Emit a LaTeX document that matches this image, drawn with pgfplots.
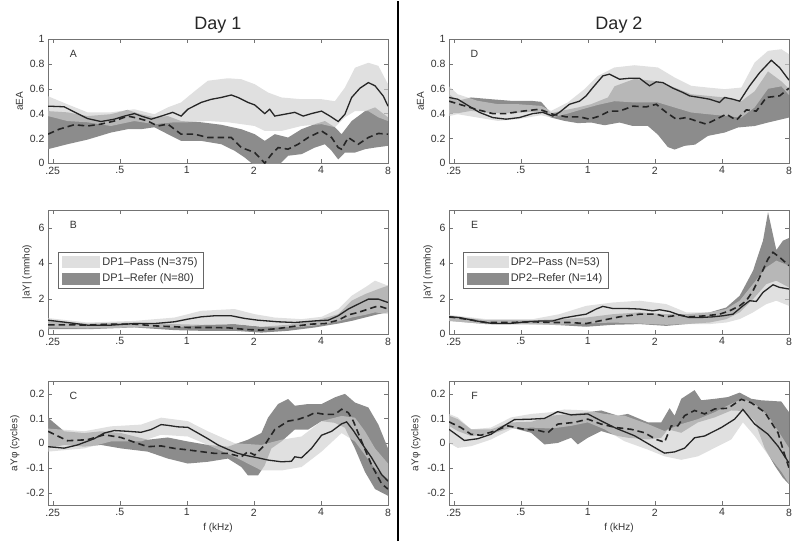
\documentclass[border=0pt]{standalone}
\usepackage{pgfplots}
\pgfplotsset{compat=1.18}
\usepgfplotslibrary{fillbetween}
\usepackage{fontspec}
\setmainfont{Liberation Sans}
\definecolor{passfill}{gray}{0.81}
\definecolor{referfill}{gray}{0.55}
\pgfplotsset{
  panel/.style={
    scale only axis, width=340pt, height=124pt,
    xmin=-2.07, xmax=3,
    xtick={-2,-1,0,1,2,3}, xticklabels={.25,.5,1,2,4,8},
    axis line style={draw=black!55}, tick style={draw=black!55},
    tick align=inside, major tick length=4pt,
    ticklabel style={font=\fontsize{10.5}{12}\selectfont, text=black!80},
    label style={font=\fontsize{10}{12}\selectfont, text=black!80},
    title style={font=\fontsize{18}{20}\selectfont, text=black!85, yshift=-4pt},
    legend style={draw=black!60, font=\fontsize{11}{13}\selectfont, text=black!80,
       cells={anchor=west}, row sep=3pt, inner xsep=4pt, inner ysep=3pt},
    legend image code/.code={\fill[##1] (0pt,-6pt) rectangle (38pt,6pt);},
  },
  passband/.style={fill=passfill, fill opacity=0.65, draw=none},
  referband/.style={fill=referfill, draw=none},
  pathonly/.style={draw=none, forget plot},
  passline/.style={black!85, line width=1.3pt, forget plot},
  referline/.style={black!85, line width=1.6pt, dash pattern=on 6.5pt off 4pt, forget plot},
}
\newcommand{\plabel}[1]{\node[font=\fontsize{10.5}{12}\selectfont, text=black!80] at (rel axis cs:0.075,0.88) {#1};}
\begin{document}
\begin{tikzpicture}
\path (0pt,0pt) rectangle (800pt,540pt);
\draw[line width=2.4pt] (398pt,0pt) -- (398pt,540pt);

% ---------------- A ----------------
\begin{axis}[panel, at={(48pt,378pt)}, anchor=south west, ymin=0, ymax=1,
  ytick={0,0.2,0.4,0.6,0.8,1}, yticklabels={0,0.2,0.4,0.6,0.8,1},
  ylabel={aEA}, title={Day 1}]
\addplot[pathonly, name path=ru] coordinates {(-2.07,0.42) (-1.78,0.41) (-1.481,0.38) (-1.132,0.395) (-0.882,0.43) (-0.683,0.395) (-0.484,0.37) (-0.284,0.38) (-0.085,0.34) (0.214,0.33) (0.513,0.31) (0.813,0.274) (1.012,0.234) (1.162,0.18) (1.311,0.234) (1.510,0.207) (1.710,0.274) (1.909,0.315) (2.059,0.34) (2.208,0.29) (2.308,0.234) (2.458,0.34) (2.657,0.42) (2.807,0.45) (3.0,0.37)};
\addplot[pathonly, name path=rl] coordinates {(-2.07,0.113) (-1.78,0.153) (-1.481,0.19) (-1.132,0.247) (-0.882,0.274) (-0.683,0.274) (-0.484,0.29) (-0.284,0.234) (-0.085,0.18) (0.214,0.18) (0.513,0.153) (0.713,0.10) (0.862,0.046) (1.012,-0.02) (1.162,-0.02) (1.361,-0.02) (1.510,0.06) (1.710,0.073) (1.909,0.126) (2.059,0.153) (2.159,0.10) (2.258,0.03) (2.358,0.086) (2.507,0.086) (2.657,0.113) (2.807,0.126) (3.0,0.14)};
\addplot[pathonly, name path=pu] coordinates {(-2.07,0.54) (-1.78,0.475) (-1.481,0.41) (-1.132,0.41) (-0.783,0.435) (-0.484,0.395) (-0.284,0.45) (-0.085,0.49) (0.115,0.58) (0.314,0.665) (0.613,0.685) (0.813,0.677) (1.012,0.637) (1.211,0.57) (1.411,0.53) (1.710,0.516) (2.009,0.516) (2.208,0.50) (2.358,0.61) (2.507,0.77) (2.707,0.81) (2.856,0.785) (3.0,0.637)};
\addplot[pathonly, name path=pl] coordinates {(-2.07,0.38) (-1.78,0.34) (-1.481,0.33) (-1.132,0.30) (-0.783,0.34) (-0.484,0.315) (-0.184,0.33) (0.015,0.33) (0.314,0.34) (0.613,0.33) (0.813,0.315) (1.012,0.30) (1.162,0.26) (1.411,0.26) (1.710,0.30) (2.009,0.315) (2.208,0.29) (2.358,0.37) (2.507,0.42) (2.707,0.42) (2.856,0.37) (3.0,0.34)};
\addplot[referband, forget plot] fill between[of=ru and rl];
\addplot[passband, forget plot] fill between[of=pu and pl];
\addplot[referline] coordinates {(-2.07,0.234) (-1.904,0.274) (-1.68,0.31) (-1.481,0.30) (-1.281,0.315) (-1.082,0.34) (-0.882,0.38) (-0.733,0.363) (-0.583,0.34) (-0.434,0.30) (-0.284,0.315) (-0.085,0.234) (0.115,0.234) (0.314,0.207) (0.513,0.207) (0.663,0.207) (0.813,0.126) (1.012,0.086) (1.162,0.0) (1.261,0.07) (1.361,0.126) (1.510,0.113) (1.660,0.153) (1.810,0.207) (2.009,0.26) (2.159,0.207) (2.258,0.126) (2.308,0.113) (2.408,0.207) (2.557,0.153) (2.707,0.207) (2.856,0.24) (3.0,0.234)};
\addplot[passline] coordinates {(-2.07,0.46) (-1.83,0.455) (-1.63,0.40) (-1.48,0.36) (-1.28,0.336) (-1.08,0.355) (-0.93,0.38) (-0.78,0.40) (-0.68,0.38) (-0.53,0.355) (-0.38,0.38) (-0.21,0.41) (-0.085,0.38) (0.015,0.435) (0.214,0.49) (0.364,0.515) (0.513,0.53) (0.663,0.55) (0.763,0.53) (0.912,0.49) (1.012,0.47) (1.162,0.40) (1.236,0.435) (1.311,0.38) (1.461,0.395) (1.610,0.41) (1.735,0.38) (1.859,0.40) (2.009,0.42) (2.134,0.38) (2.258,0.336) (2.358,0.395) (2.458,0.53) (2.582,0.605) (2.707,0.65) (2.807,0.624) (2.931,0.54) (3.0,0.46)};
\plabel{A}
\end{axis}

% ---------------- B ----------------
\begin{axis}[panel, at={(48pt,207pt)}, anchor=south west, ymin=0, ymax=7,
  ytick={0,2,4,6}, yticklabels={0,2,4,6},
  ylabel={|aY| (mmho)},
  legend style={at={(0.03,0.66)}, anchor=north west}]
\addlegendimage{passband}
\addlegendentry{DP1–Pass (N=375)}
\addlegendimage{referband}
\addlegendentry{DP1–Refer (N=80)}
\addplot[pathonly, name path=ru] coordinates {(-2.07,0.75) (-1.481,0.60) (-0.783,0.66) (-0.184,0.57) (0.214,0.53) (0.713,0.57) (1.112,0.42) (1.510,0.53) (1.909,0.75) (2.258,1.13) (2.458,1.89) (2.657,2.26) (2.856,2.55) (3.0,2.74)};
\addplot[pathonly, name path=rl] coordinates {(-2.07,0.28) (-1.481,0.28) (-0.783,0.38) (-0.184,0.23) (0.214,0.19) (0.713,0.19) (1.112,0.09) (1.510,0.19) (1.909,0.38) (2.258,0.60) (2.458,0.75) (2.657,0.94) (2.856,1.13) (3.0,1.23)};
\addplot[pathonly, name path=pu] coordinates {(-2.07,0.91) (-1.481,0.66) (-0.783,0.75) (-0.184,0.94) (0.214,1.32) (0.713,1.42) (1.012,1.13) (1.311,0.94) (1.710,0.85) (2.009,0.98) (2.258,1.42) (2.458,2.17) (2.657,2.64) (2.807,3.02) (3.0,2.74)};
\addplot[pathonly, name path=pl] coordinates {(-2.07,0.38) (-1.481,0.32) (-0.783,0.38) (-0.184,0.38) (0.214,0.51) (0.713,0.57) (1.012,0.47) (1.311,0.38) (1.710,0.42) (2.009,0.53) (2.258,0.72) (2.458,0.94) (2.657,1.09) (2.807,1.23) (3.0,1.13)};
\addplot[referband, forget plot] fill between[of=ru and rl];
\addplot[passband, forget plot] fill between[of=pu and pl];
\addplot[referline] coordinates {(-2.07,0.53) (-1.78,0.53) (-1.481,0.51) (-1.132,0.57) (-0.783,0.57) (-0.484,0.47) (-0.184,0.42) (0.015,0.38) (0.314,0.38) (0.613,0.36) (0.912,0.26) (1.112,0.23) (1.361,0.32) (1.610,0.45) (1.859,0.57) (2.059,0.60) (2.258,0.79) (2.408,1.09) (2.557,1.23) (2.707,1.42) (2.856,1.60) (3.0,1.42)};
\addplot[passline] coordinates {(-2.07,0.79) (-1.78,0.66) (-1.481,0.51) (-1.132,0.51) (-0.783,0.60) (-0.484,0.60) (-0.184,0.70) (0.015,0.85) (0.214,0.98) (0.414,1.04) (0.663,1.04) (0.862,0.89) (1.062,0.79) (1.361,0.70) (1.610,0.66) (1.909,0.75) (2.109,0.79) (2.258,1.04) (2.408,1.42) (2.557,1.70) (2.707,1.98) (2.856,1.98) (3.0,1.79)};
\plabel{B}
\end{axis}

% ---------------- C ----------------
\begin{axis}[panel, at={(48pt,36pt)}, anchor=south west, ymin=-0.25, ymax=0.25,
  ytick={-0.2,-0.1,0,0.1,0.2}, yticklabels={-0.2,-0.1,0,0.1,0.2},
  ylabel={aYφ (cycles)}, xlabel={f (kHz)}]
\addplot[pathonly, name path=ru] coordinates {(-2.07,0.103) (-1.829,0.048) (-1.53,0.041) (-1.281,0.048) (-0.982,0.041) (-0.583,0.014) (-0.284,0.023) (0.015,0.007) (0.314,-0.007) (0.613,-0.014) (0.912,0.014) (1.112,0.041) (1.211,0.103) (1.361,0.158) (1.510,0.178) (1.610,0.151) (1.810,0.158) (2.009,0.158) (2.208,0.185) (2.358,0.199) (2.507,0.164) (2.707,0.144) (2.856,0.075) (3.0,-0.021)};
\addplot[pathonly, name path=rl] coordinates {(-2.07,-0.021) (-1.829,-0.007) (-1.53,-0.014) (-1.281,-0.007) (-0.982,-0.021) (-0.583,-0.034) (-0.284,-0.062) (0.015,-0.082) (0.314,-0.075) (0.613,-0.062) (0.813,-0.096) (0.912,-0.13) (1.062,-0.13) (1.162,-0.089) (1.261,-0.021) (1.411,0.007) (1.610,0.055) (1.810,0.055) (2.009,0.089) (2.208,0.082) (2.358,0.062) (2.507,-0.021) (2.657,-0.116) (2.807,-0.185) (3.0,-0.212)};
\addplot[pathonly, name path=pu] coordinates {(-2.07,0.059) (-1.53,0.048) (-1.132,0.068) (-0.683,0.075) (-0.384,0.103) (0.015,0.089) (0.314,0.048) (0.713,0) (1.112,-0.007) (1.411,0.014) (1.710,0.027) (2.009,0.089) (2.308,0.11) (2.507,0.103) (2.657,0.048) (2.807,-0.021) (3.0,-0.082)};
\addplot[pathonly, name path=pl] coordinates {(-2.07,-0.034) (-1.53,-0.021) (-1.132,0.007) (-0.683,0.007) (-0.384,0.034) (0.015,0.027) (0.314,-0.007) (0.713,-0.055) (1.112,-0.11) (1.411,-0.11) (1.710,-0.096) (2.009,-0.034) (2.308,0.041) (2.507,0.007) (2.657,-0.048) (2.807,-0.103) (3.0,-0.144)};
\addplot[referband, forget plot] fill between[of=ru and rl];
\addplot[passband, forget plot] fill between[of=pu and pl];
\addplot[referline] coordinates {(-2.07,0.048) (-1.78,0.01) (-1.481,0.014) (-1.231,0.034) (-0.982,0.023) (-0.783,0.004) (-0.583,-0.014) (-0.384,-0.011) (-0.184,-0.021) (0.015,-0.027) (0.214,-0.034) (0.414,-0.041) (0.613,-0.041) (0.813,-0.055) (0.912,-0.034) (1.012,-0.048) (1.162,-0.007) (1.311,0.055) (1.510,0.089) (1.660,0.096) (1.810,0.11) (1.909,0.123) (2.059,0.116) (2.208,0.116) (2.308,0.137) (2.408,0.123) (2.483,0.089) (2.607,0.007) (2.757,-0.089) (2.906,-0.164) (3.0,-0.185)};
\addplot[passline] coordinates {(-2.07,-0.014) (-1.829,-0.02) (-1.63,-0.007) (-1.381,0.018) (-1.231,0.041) (-1.082,0.051) (-0.882,0.048) (-0.683,0.044) (-0.533,0.055) (-0.384,0.075) (-0.284,0.072) (-0.135,0.066) (0.015,0.064) (0.165,0.041) (0.314,0.018) (0.464,-0.007) (0.613,-0.025) (0.763,-0.041) (0.912,-0.051) (1.062,-0.059) (1.211,-0.068) (1.411,-0.075) (1.560,-0.073) (1.610,-0.055) (1.710,-0.059) (1.859,-0.021) (2.009,0.032) (2.159,0.048) (2.308,0.078) (2.383,0.086) (2.483,0.051) (2.607,0) (2.757,-0.059) (2.906,-0.127) (3.0,-0.153)};
\plabel{C}
\end{axis}

% ---------------- D ----------------
\begin{axis}[panel, at={(449pt,378pt)}, anchor=south west, ymin=0, ymax=1,
  ytick={0,0.2,0.4,0.6,0.8,1}, yticklabels={0,0.2,0.4,0.6,0.8,1},
  ylabel={aEA}, title={Day 2}]
\addplot[pathonly, name path=ru] coordinates {(-2.07,0.556) (-1.94,0.503) (-1.741,0.53) (-1.443,0.516) (-1.144,0.503) (-0.846,0.503) (-0.697,0.495) (-0.547,0.403) (-0.398,0.422) (-0.149,0.449) (0.050,0.476) (0.299,0.53) (0.398,0.62) (0.697,0.68) (1.045,0.66) (1.294,0.61) (1.542,0.556) (1.791,0.543) (2.040,0.53) (2.289,0.50) (2.488,0.58) (2.687,0.74) (2.886,0.66) (3.0,0.60)};
\addplot[pathonly, name path=rl] coordinates {(-2.07,0.403) (-1.94,0.403) (-1.741,0.422) (-1.443,0.403) (-1.144,0.403) (-0.846,0.414) (-0.697,0.414) (-0.547,0.368) (-0.348,0.341) (-0.149,0.323) (0.050,0.328) (0.249,0.306) (0.473,0.328) (0.672,0.30) (0.896,0.30) (1.045,0.23) (1.194,0.13) (1.294,0.11) (1.443,0.14) (1.60,0.15) (1.791,0.22) (2.040,0.247) (2.239,0.288) (2.488,0.30) (2.687,0.328) (3.0,0.368)};
\addplot[pathonly, name path=pu] coordinates {(-2.07,0.62) (-1.94,0.556) (-1.642,0.503) (-1.343,0.476) (-1.045,0.476) (-0.697,0.462) (-0.547,0.422) (-0.299,0.49) (-0.050,0.597) (0.149,0.704) (0.398,0.772) (0.697,0.79) (1.045,0.772) (1.294,0.691) (1.542,0.624) (1.791,0.61) (2.040,0.597) (2.289,0.61) (2.488,0.812) (2.687,0.906) (2.886,0.919) (3.0,0.879)};
\addplot[pathonly, name path=pl] coordinates {(-2.07,0.38) (-1.94,0.395) (-1.642,0.368) (-1.343,0.341) (-1.045,0.355) (-0.697,0.387) (-0.547,0.368) (-0.299,0.40) (-0.050,0.44) (0.149,0.47) (0.398,0.50) (0.697,0.49) (1.045,0.49) (1.294,0.449) (1.542,0.409) (1.791,0.395) (2.040,0.382) (2.289,0.368) (2.488,0.45) (2.687,0.60) (2.886,0.62) (3.0,0.55)};
\addplot[referband, forget plot] fill between[of=ru and rl];
\addplot[passband, forget plot] fill between[of=pu and pl];
\addplot[referline] coordinates {(-2.07,0.50) (-1.915,0.475) (-1.667,0.435) (-1.418,0.40) (-1.219,0.40) (-0.970,0.42) (-0.721,0.435) (-0.522,0.395) (-0.323,0.374) (-0.124,0.374) (0.025,0.355) (0.174,0.38) (0.323,0.42) (0.473,0.42) (0.672,0.46) (0.871,0.454) (1.020,0.475) (1.169,0.41) (1.318,0.355) (1.468,0.368) (1.617,0.34) (1.766,0.315) (1.915,0.355) (2.065,0.395) (2.214,0.347) (2.363,0.43) (2.512,0.42) (2.662,0.53) (2.861,0.543) (3.0,0.605)};
\addplot[passline] coordinates {(-2.07,0.53) (-1.94,0.516) (-1.816,0.475) (-1.617,0.41) (-1.418,0.368) (-1.219,0.355) (-1.020,0.368) (-0.821,0.40) (-0.672,0.41) (-0.522,0.38) (-0.423,0.41) (-0.274,0.475) (-0.124,0.50) (-0.025,0.543) (0.075,0.61) (0.224,0.704) (0.323,0.718) (0.473,0.677) (0.622,0.685) (0.771,0.685) (0.920,0.624) (1.020,0.656) (1.119,0.65) (1.269,0.605) (1.418,0.57) (1.517,0.543) (1.667,0.53) (1.816,0.516) (1.965,0.49) (2.040,0.53) (2.164,0.516) (2.264,0.50) (2.413,0.624) (2.562,0.73) (2.736,0.83) (2.861,0.77) (3.0,0.67)};
\plabel{D}
\end{axis}

% ---------------- E ----------------
\begin{axis}[panel, at={(449pt,207pt)}, anchor=south west, ymin=0, ymax=7,
  ytick={0,2,4,6}, yticklabels={0,2,4,6},
  ylabel={|aY| (mmho)},
  legend style={at={(0.04,0.66)}, anchor=north west},
  legend image code/.code={\fill[#1] (0pt,-6pt) rectangle (42pt,6pt);}]
\addlegendimage{passband}
\addlegendentry{DP2–Pass (N=53)}
\addlegendimage{referband}
\addlegendentry{DP2–Refer (N=14)}
\addplot[pathonly, name path=ru] coordinates {(-2.07,1.04) (-1.517,0.79) (-0.821,0.79) (-0.423,0.85) (-0.025,0.94) (0.373,1.13) (0.771,1.23) (1.169,1.13) (1.468,1.13) (1.816,1.23) (2.065,1.51) (2.264,2.17) (2.463,3.58) (2.612,5.28) (2.687,6.89) (2.811,4.75) (2.910,5.28) (3.0,5.43)};
\addplot[pathonly, name path=rl] coordinates {(-2.07,0.75) (-1.517,0.57) (-0.821,0.57) (-0.423,0.51) (-0.025,0.42) (0.373,0.53) (0.771,0.57) (1.169,0.47) (1.468,0.57) (1.816,0.66) (2.065,0.85) (2.264,1.23) (2.463,1.98) (2.662,2.83) (2.811,3.02) (3.0,2.64)};
\addplot[pathonly, name path=pu] coordinates {(-2.07,1.09) (-1.517,0.85) (-0.821,0.85) (-0.423,1.13) (-0.025,1.60) (0.373,1.79) (0.771,1.89) (1.169,1.70) (1.468,1.23) (1.816,1.23) (2.065,1.42) (2.264,1.89) (2.463,2.83) (2.662,3.77) (2.811,4.15) (3.0,3.87)};
\addplot[pathonly, name path=pl] coordinates {(-2.07,0.75) (-1.517,0.57) (-0.821,0.53) (-0.423,0.53) (-0.025,0.60) (0.373,0.66) (0.771,0.60) (1.169,0.53) (1.468,0.57) (1.816,0.57) (2.065,0.66) (2.264,0.85) (2.463,1.23) (2.662,1.70) (2.811,1.89) (3.0,1.60)};
\addplot[referband, forget plot] fill between[of=ru and rl];
\addplot[passband, forget plot] fill between[of=pu and pl];
\addplot[referline] coordinates {(-2.07,0.98) (-1.816,0.85) (-1.517,0.66) (-1.169,0.66) (-0.821,0.70) (-0.522,0.66) (-0.274,0.66) (-0.025,0.60) (0.174,0.75) (0.473,0.98) (0.771,1.13) (1.020,1.13) (1.169,0.98) (1.368,1.08) (1.517,0.98) (1.766,1.04) (1.965,1.13) (2.114,1.32) (2.264,1.60) (2.363,1.89) (2.463,2.45) (2.562,3.21) (2.687,4.25) (2.761,4.62) (2.861,4.34) (3.0,3.87)};
\addplot[passline] coordinates {(-2.07,0.98) (-1.915,0.94) (-1.667,0.75) (-1.418,0.60) (-1.169,0.60) (-0.920,0.70) (-0.672,0.75) (-0.522,0.75) (-0.373,0.91) (-0.174,1.04) (-0.025,1.13) (0.124,1.42) (0.224,1.57) (0.373,1.45) (0.572,1.45) (0.771,1.42) (0.970,1.32) (1.070,1.38) (1.219,1.28) (1.368,1.08) (1.517,0.94) (1.667,0.94) (1.866,0.98) (2.015,1.04) (2.164,1.13) (2.313,1.60) (2.413,1.89) (2.512,1.85) (2.612,2.36) (2.761,2.79) (2.861,2.64) (3.0,2.55)};
\plabel{E}
\end{axis}

% ---------------- F ----------------
\begin{axis}[panel, at={(449pt,36pt)}, anchor=south west, ymin=-0.25, ymax=0.25,
  ytick={-0.2,-0.1,0,0.1,0.2}, yticklabels={-0.2,-0.1,0,0.1,0.2},
  ylabel={aYφ (cycles)}, xlabel={f (kHz)}]
\addplot[pathonly, name path=ru] coordinates {(-2.07,0.111) (-1.94,0.097) (-1.741,0.056) (-1.443,0.056) (-1.144,0.084) (-0.846,0.086) (-0.547,0.111) (-0.249,0.118) (0,0.125) (0.199,0.132) (0.448,0.111) (0.597,0.118) (0.896,0.084) (1.095,0.084) (1.219,0.141) (1.294,0.111) (1.393,0.179) (1.592,0.214) (1.692,0.173) (1.891,0.179) (2.090,0.186) (2.264,0.204) (2.438,0.179) (2.587,0.173) (2.886,0.168) (3.0,0.125)};
\addplot[pathonly, name path=rl] coordinates {(-2.07,0.07) (-1.94,0.049) (-1.741,0.029) (-1.443,0.036) (-1.144,0.063) (-0.846,0.042) (-0.647,-0.005) (-0.448,0.001) (-0.249,0.022) (-0.149,-0.005) (0,0.022) (0.199,0.049) (0.448,0.029) (0.597,0.022) (0.896,0.015) (1.095,0.022) (1.194,0.056) (1.393,0.042) (1.642,0.084) (1.891,0.104) (2.139,0.132) (2.313,0.13) (2.488,0.09) (2.637,-0.02) (2.786,-0.09) (2.910,-0.14) (3.0,-0.165)};
\addplot[pathonly, name path=pu] coordinates {(-2.07,0.118) (-1.94,0.104) (-1.741,0.056) (-1.443,0.063) (-1.144,0.104) (-0.846,0.118) (-0.547,0.125) (-0.348,0.136) (0,0.132) (0.249,0.118) (0.547,0.111) (0.896,0.077) (1.144,0.049) (1.393,0.077) (1.642,0.097) (1.891,0.125) (2.139,0.159) (2.313,0.179) (2.488,0.159) (2.687,0.111) (2.886,0.029) (3.0,-0.019)};
\addplot[pathonly, name path=pl] coordinates {(-2.07,0.001) (-1.94,-0.019) (-1.741,-0.012) (-1.443,0.015) (-1.144,0.056) (-0.846,0.063) (-0.547,0.059) (-0.249,0.07) (0,0.084) (0.249,0.056) (0.547,0.008) (0.896,-0.026) (1.144,-0.053) (1.393,-0.067) (1.642,-0.053) (1.891,-0.019) (2.139,0.015) (2.313,0.084) (2.488,0.029) (2.687,-0.047) (2.886,-0.115) (3.0,-0.163)};
\addplot[referband, forget plot] fill between[of=ru and rl];
\addplot[passband, forget plot] fill between[of=pu and pl];
\addplot[referline] coordinates {(-2.07,0.086) (-1.891,0.063) (-1.741,0.036) (-1.592,0.032) (-1.393,0.049) (-1.194,0.07) (-0.945,0.056) (-0.746,0.052) (-0.597,0.042) (-0.448,0.077) (-0.199,0.084) (0,0.097) (0.199,0.077) (0.423,0.063) (0.647,0.056) (0.846,0.042) (1.020,0.015) (1.144,0.004) (1.244,0.07) (1.343,0.07) (1.443,0.111) (1.592,0.132) (1.741,0.118) (1.891,0.138) (2.090,0.141) (2.289,0.177) (2.438,0.163) (2.637,0.125) (2.836,0.042) (2.935,-0.047) (3.0,-0.10)};
\addplot[passline] coordinates {(-2.07,0.056) (-1.841,0.011) (-1.642,0.018) (-1.443,0.036) (-1.294,0.063) (-1.095,0.095) (-0.846,0.097) (-0.647,0.10) (-0.448,0.127) (-0.249,0.114) (0,0.118) (0.199,0.09) (0.423,0.06) (0.697,0.03) (1.045,-0.025) (1.144,-0.04) (1.294,-0.035) (1.443,-0.02) (1.592,0.022) (1.741,0.029) (1.990,0.063) (2.189,0.097) (2.313,0.136) (2.488,0.077) (2.687,0.036) (2.836,-0.012) (3.0,-0.08)};
\plabel{F}
\end{axis}
\end{tikzpicture}
\end{document}
